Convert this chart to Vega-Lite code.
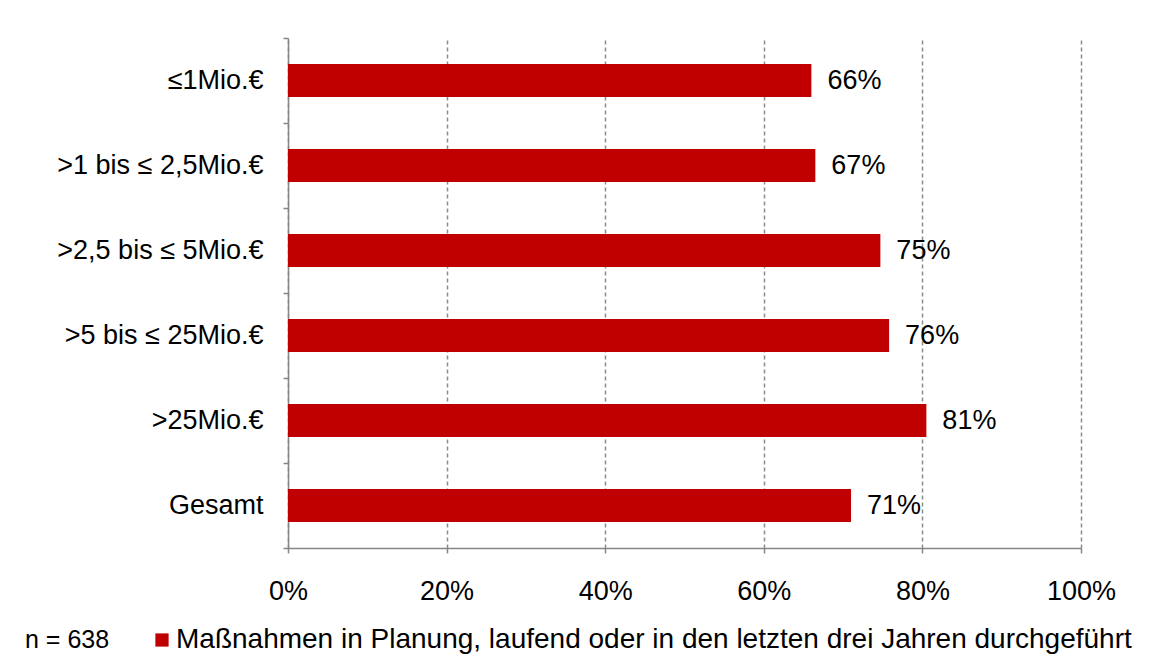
{
  "$schema": "https://vega.github.io/schema/vega-lite/v6.json",
  "width": 793,
  "height": 510,
  "autosize": {"type": "none"},
  "padding": {"left": 288, "top": 38, "right": 82, "bottom": 116},
  "background": "white",
  "data": {
    "values": [
      {"group": "≤1Mio.€", "value": 0.66, "label": "66%", "series": "Maßnahmen in Planung, laufend oder in den letzten drei Jahren durchgeführt"},
      {"group": ">1 bis ≤ 2,5Mio.€", "value": 0.665, "label": "67%", "series": "Maßnahmen in Planung, laufend oder in den letzten drei Jahren durchgeführt"},
      {"group": ">2,5 bis ≤ 5Mio.€", "value": 0.747, "label": "75%", "series": "Maßnahmen in Planung, laufend oder in den letzten drei Jahren durchgeführt"},
      {"group": ">5 bis ≤ 25Mio.€", "value": 0.758, "label": "76%", "series": "Maßnahmen in Planung, laufend oder in den letzten drei Jahren durchgeführt"},
      {"group": ">25Mio.€", "value": 0.805, "label": "81%", "series": "Maßnahmen in Planung, laufend oder in den letzten drei Jahren durchgeführt"},
      {"group": "Gesamt", "value": 0.71, "label": "71%", "series": "Maßnahmen in Planung, laufend oder in den letzten drei Jahren durchgeführt"}
    ]
  },
  "encoding": {
    "y": {
      "field": "group",
      "type": "nominal",
      "sort": null,
      "scale": {"paddingInner": 0, "paddingOuter": 0},
      "axis": {
        "title": null,
        "tickBand": "extent",
        "tickSize": 5,
        "tickColor": "#868686",
        "tickWidth": 1.5,
        "domainColor": "#868686",
        "domainWidth": 1.5,
        "labelPadding": 20,
        "labelFont": "Liberation Sans",
        "labelFontSize": 27,
        "labelColor": "#000000",
        "labelLimit": 0,
        "grid": false
      }
    },
    "x": {
      "field": "value",
      "type": "quantitative",
      "scale": {"domain": [0, 1], "nice": false},
      "axis": {
        "title": null,
        "values": [0, 0.2, 0.4, 0.6, 0.8, 1],
        "format": ".0%",
        "grid": true,
        "gridDash": [4, 3],
        "gridColor": "#8c8c8c",
        "gridWidth": 1.5,
        "domainColor": "#868686",
        "domainWidth": 1.5,
        "tickColor": "#868686",
        "tickWidth": 1.5,
        "tickSize": 5,
        "labelFlush": false,
        "labelPadding": 25,
        "labelFont": "Liberation Sans",
        "labelFontSize": 27,
        "labelColor": "#000000"
      }
    }
  },
  "layer": [
    {
      "mark": {"type": "bar", "height": {"band": 0.39}},
      "encoding": {
        "color": {
          "field": "series",
          "type": "nominal",
          "scale": {"range": ["#C00000"]},
          "legend": {
            "orient": "none",
            "legendX": -263,
            "legendY": 588,
            "title": "n = 638",
            "titleOrient": "left",
            "titleFont": "Liberation Sans",
            "titleFontSize": 25,
            "titleFontWeight": "normal",
            "titleColor": "#000000",
            "titlePadding": 38,
            "labelFont": "Liberation Sans",
            "labelFontSize": 28,
            "labelColor": "#000000",
            "labelLimit": 0,
            "labelOffset": 0,
            "symbolType": "square",
            "symbolSize": 175,
            "symbolStrokeWidth": 0
          }
        }
      }
    },
    {
      "mark": {"type": "text", "align": "left", "baseline": "middle", "dx": 16, "font": "Liberation Sans", "fontSize": 27, "color": "#000000"},
      "encoding": {"text": {"field": "label"}}
    }
  ],
  "config": {"view": {"stroke": null}}
}
